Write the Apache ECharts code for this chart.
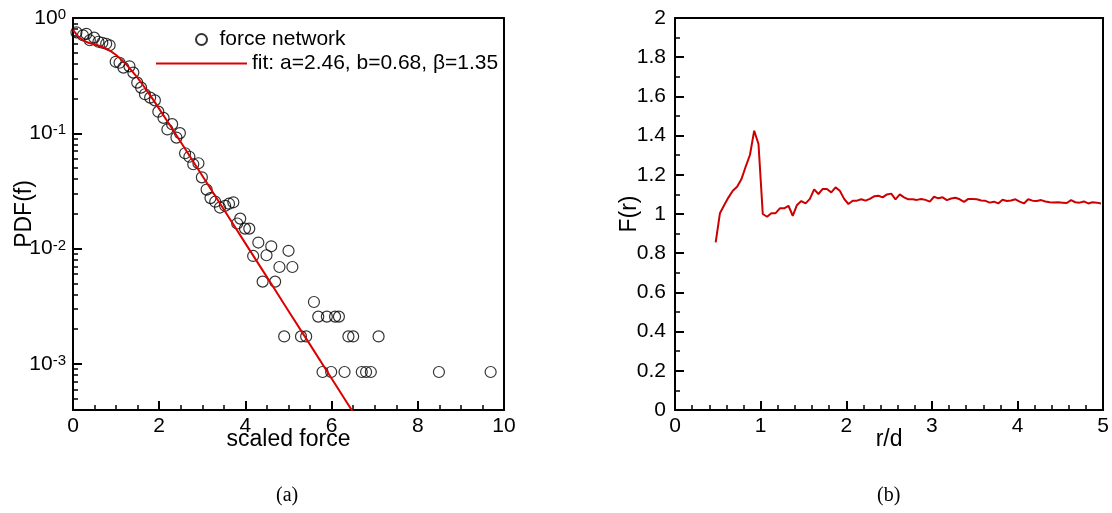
<!DOCTYPE html>
<html>
<head>
<meta charset="utf-8">
<script src="https://cdn.jsdelivr.net/npm/echarts@6/dist/echarts.min.js"></script>
<style>
  html, body { margin: 0; padding: 0; background: #fff; }
  #chart { width: 1112px; height: 513px; }
</style>
</head>
<body>
<div id="chart"></div>
<script>
// (a) probability density of the scaled contact force
const forceX = [0.08, 0.23, 0.31, 0.39, 0.49, 0.59, 0.68, 0.77, 0.85, 0.99,
  1.08, 1.17, 1.31, 1.40, 1.49, 1.58, 1.67, 1.79, 1.90, 1.98,
  2.10, 2.19, 2.30, 2.40, 2.48, 2.60, 2.70, 2.79, 2.91, 2.99,
  3.10, 3.19, 3.30, 3.41, 3.53, 3.62, 3.72, 3.81, 3.88, 3.99,
  4.09, 4.18, 4.30, 4.40, 4.49, 4.60, 4.69, 4.79, 4.90, 5.00,
  5.09, 5.29, 5.41, 5.59, 5.69, 5.79, 5.89, 5.99, 6.08, 6.17,
  6.30, 6.39, 6.50, 6.70, 6.80, 6.91, 7.09, 8.49, 9.69];
const forcePdf = [0.751, 0.708, 0.729, 0.641, 0.676, 0.622, 0.610, 0.598, 0.580, 0.417,
  0.409, 0.371, 0.381, 0.336, 0.275, 0.249, 0.218, 0.204, 0.193, 0.154,
  0.136, 0.108, 0.120, 0.0918, 0.1004, 0.0671, 0.0626, 0.0539, 0.0550, 0.0415,
  0.0325, 0.0274, 0.0255, 0.0227, 0.0235, 0.0245, 0.0252, 0.0165, 0.0182, 0.0149,
  0.0149, 0.00863, 0.01128, 0.00517, 0.00875, 0.01047, 0.00517, 0.00692, 0.00173, 0.00957,
  0.00692, 0.00173, 0.00173, 0.00344, 0.00257, 0.00085, 0.00257, 0.00085, 0.00257, 0.00257,
  0.00085, 0.00173, 0.00173, 0.00085, 0.00085, 0.00085, 0.00173, 0.00085, 0.00085];

// fitted curve a(1 - b e^{-f^2}) e^{-beta f}, tabulated
const fitX = [0, 0.125, 0.25, 0.375, 0.5, 0.625, 0.75, 0.875, 1, 1.125,
  1.25, 1.375, 1.5, 1.625, 1.75, 1.875, 2, 2.25, 2.5, 3,
  3.5, 4, 4.5, 5, 5.5, 6, 6.5];
const fitPdf = [0.787, 0.687, 0.634, 0.607, 0.589, 0.571, 0.547, 0.516, 0.478, 0.435,
  0.390, 0.345, 0.302, 0.261, 0.224, 0.192, 0.163, 0.1174, 0.0841, 0.0429,
  0.0218, 0.0111, 0.00566, 0.00288, 0.00147, 0.000747, 0.000380];

const pdfMajorTicks = [0.001, 0.01, 0.1, 1];
const pdfMinorTicks = [0.0005, 0.0006, 0.0007, 0.0008, 0.0009,
  0.002, 0.003, 0.004, 0.005, 0.006, 0.007, 0.008, 0.009,
  0.02, 0.03, 0.04, 0.05, 0.06, 0.07, 0.08, 0.09,
  0.2, 0.3, 0.4, 0.5, 0.6, 0.7, 0.8, 0.9];

const scatterName = 'force network';
const fitName = 'fit: a=2.46, b=0.68, β=1.35';

// (b) F(r) against r/d
const radius = [0.475, 0.525, 0.575, 0.625, 0.675, 0.725, 0.775, 0.825, 0.875, 0.925,
  0.975, 1.025, 1.075, 1.125, 1.175, 1.225, 1.275, 1.325, 1.375, 1.425,
  1.475, 1.525, 1.575, 1.625, 1.675, 1.725, 1.775, 1.825, 1.875, 1.925,
  1.975, 2.025, 2.075, 2.125, 2.175, 2.225, 2.275, 2.325, 2.375, 2.425,
  2.475, 2.525, 2.575, 2.625, 2.675, 2.725, 2.775, 2.825, 2.875, 2.925,
  2.975, 3.025, 3.075, 3.125, 3.175, 3.225, 3.275, 3.325, 3.375, 3.425,
  3.475, 3.525, 3.575, 3.625, 3.675, 3.725, 3.775, 3.825, 3.875, 3.925,
  3.975, 4.025, 4.075, 4.125, 4.175, 4.225, 4.275, 4.325, 4.375, 4.425,
  4.475, 4.525, 4.575, 4.625, 4.675, 4.725, 4.775, 4.825, 4.875, 4.925,
  4.975];
const fValues = [0.855, 1.004, 1.046, 1.085, 1.119, 1.139, 1.177, 1.241, 1.301, 1.425,
  1.357, 1.000, 0.986, 1.004, 1.004, 1.029, 1.029, 1.042, 0.991, 1.046,
  1.066, 1.054, 1.077, 1.126, 1.102, 1.128, 1.128, 1.110, 1.136, 1.119,
  1.077, 1.051, 1.068, 1.068, 1.075, 1.068, 1.077, 1.090, 1.093, 1.085,
  1.100, 1.104, 1.075, 1.100, 1.085, 1.075, 1.075, 1.072, 1.077, 1.072,
  1.063, 1.088, 1.080, 1.085, 1.071, 1.079, 1.083, 1.075, 1.062, 1.077,
  1.076, 1.075, 1.069, 1.067, 1.058, 1.063, 1.054, 1.073, 1.066, 1.069,
  1.075, 1.063, 1.054, 1.075, 1.068, 1.066, 1.071, 1.064, 1.060, 1.059,
  1.060, 1.058, 1.056, 1.071, 1.060, 1.058, 1.064, 1.054, 1.060, 1.058,
  1.054];

const SANS = 'Liberation Sans, Arial, Helvetica, sans-serif';
const SERIF = 'Liberation Serif, Times New Roman, serif';
const BLACK = '#000';
const MAJOR = 9;
const MINOR = 5;

const zip = (xs, ys) => xs.map((x, i) => [x, ys[i]]);

const tickLabel = { fontFamily: SANS, fontSize: 21, color: BLACK };
const axisName = { fontFamily: SANS, fontSize: 23, color: BLACK };
const frameLine = { show: true, onZero: false, lineStyle: { color: BLACK, width: 2 } };
const hidden = { show: false };

// main axis: frame line, labels and title
function mainAxis(gridIndex, position, scale, extra) {
  return Object.assign({
    gridIndex, position,
    axisLine: frameLine, axisTick: hidden, minorTick: hidden, splitLine: hidden,
    axisLabel: Object.assign({ margin: 6 }, tickLabel),
    nameLocation: 'middle', nameMoveOverlap: false, nameTextStyle: axisName
  }, scale, extra);
}

// tick rows: an axis shifted into the plot by the tick length, its ticks pointing back to the frame
function majorTickAxis(gridIndex, position, scale, customValues) {
  return Object.assign({
    gridIndex, position, offset: -MAJOR,
    axisLine: hidden, axisLabel: hidden, splitLine: hidden, minorTick: hidden,
    axisTick: { show: true, length: MAJOR, customValues, lineStyle: { color: BLACK, width: 2 } }
  }, scale);
}
function minorTickAxis(gridIndex, position, scale, splitNumber, customValues) {
  const ax = Object.assign({
    gridIndex, position, offset: -MINOR,
    axisLine: hidden, axisLabel: hidden, splitLine: hidden
  }, scale);
  if (customValues) {
    ax.axisTick = { show: true, length: MINOR, customValues, lineStyle: { color: BLACK, width: 1.5 } };
    ax.minorTick = hidden;
  } else {
    ax.axisTick = hidden;
    ax.minorTick = { show: true, splitNumber, length: MINOR, lineStyle: { color: BLACK, width: 1.5 } };
  }
  return ax;
}
// plain edge closing the box on the top and right
function edgeAxis(gridIndex, position, scale) {
  return Object.assign({
    gridIndex, position,
    axisLine: frameLine, axisTick: hidden, minorTick: hidden, axisLabel: hidden, splitLine: hidden
  }, scale);
}

const logMin = Math.pow(10, -3.4);
const forceScale = { type: 'value', min: 0, max: 10, interval: 2 };
const pdfScale = { type: 'log', logBase: 10, min: logMin, max: 1 };
const rScale = { type: 'value', min: 0, max: 5, interval: 1 };
const fScale = { type: 'value', min: 0, max: 2, interval: 0.2 };

const option = {
  animation: false,
  backgroundColor: '#fff',
  grid: [
    { left: 73, right: 608, top: 18, bottom: 103 },
    { left: 675, right: 7, top: 18, bottom: 103 }
  ],
  title: [
    { text: '(a)', left: 276, top: 486, padding: 0, textStyle: { fontFamily: SERIF, fontSize: 20, fontWeight: 'normal', color: BLACK } },
    { text: '(b)', left: 877, top: 486, padding: 0, textStyle: { fontFamily: SERIF, fontSize: 20, fontWeight: 'normal', color: BLACK } }
  ],
  legend: [
    {
      data: [scatterName], left: 195, top: 29, padding: 0, orient: 'vertical',
      itemWidth: 26, itemHeight: 11, selectedMode: false,
      textStyle: { fontFamily: SANS, fontSize: 21, color: BLACK }
    },
    {
      data: [{ name: fitName, icon: 'rect' }], left: 156, top: 53, padding: 0, orient: 'vertical',
      itemWidth: 91, itemHeight: 2, selectedMode: false,
      textStyle: { fontFamily: SANS, fontSize: 21, color: BLACK }
    }
  ],
  xAxis: [
    mainAxis(0, 'bottom', forceScale, { name: 'scaled force', nameGap: 18 }),       // 0
    mainAxis(1, 'bottom', rScale, { name: 'r/d', nameGap: 18 }),                    // 1
    majorTickAxis(0, 'bottom', forceScale),
    minorTickAxis(0, 'bottom', forceScale, 4),
    majorTickAxis(1, 'bottom', rScale),
    minorTickAxis(1, 'bottom', rScale, 5),
    edgeAxis(0, 'top', forceScale),
    edgeAxis(1, 'top', rScale)
  ],
  yAxis: [
    mainAxis(0, 'left', pdfScale, {                                                  // 0
      axisLabel: {
        customValues: pdfMajorTicks,
        margin: 7,
        formatter: v => '{b|10}{s|' + Math.round(Math.log10(v)) + '}',
        rich: {
          b: { fontFamily: SANS, fontSize: 21, color: BLACK, verticalAlign: 'bottom' },
          s: { fontFamily: SANS, fontSize: 15, color: BLACK, verticalAlign: 'top' }
        }
      },
      name: 'PDF(f)', nameGap: 37
    }),
    mainAxis(1, 'left', fScale, { axisLabel: Object.assign({ margin: 9 }, tickLabel), name: 'F(r)', nameGap: 34 }), // 1
    majorTickAxis(0, 'left', pdfScale, pdfMajorTicks),
    minorTickAxis(0, 'left', pdfScale, 0, pdfMinorTicks),
    majorTickAxis(1, 'left', fScale),
    minorTickAxis(1, 'left', fScale, 2),
    edgeAxis(0, 'right', pdfScale),
    edgeAxis(1, 'right', fScale)
  ],
  series: [
    {
      name: scatterName, type: 'scatter', xAxisIndex: 0, yAxisIndex: 0,
      symbol: 'circle', symbolSize: 11,
      itemStyle: { color: 'rgba(0,0,0,0)', borderColor: BLACK, borderWidth: 1.2 },
      data: zip(forceX, forcePdf)
    },
    {
      name: fitName, type: 'line', xAxisIndex: 0, yAxisIndex: 0,
      showSymbol: false, symbol: 'none', clip: true,
      lineStyle: { color: '#dd0000', width: 2 },
      itemStyle: { color: '#dd0000' },
      data: zip(fitX, fitPdf)
    },
    {
      name: 'F(r)', type: 'line', xAxisIndex: 1, yAxisIndex: 1,
      showSymbol: false, symbol: 'none',
      lineStyle: { color: '#cc0000', width: 2 },
      data: zip(radius, fValues)
    }
  ]
};

echarts.init(document.getElementById('chart'), null, { renderer: 'canvas' }).setOption(option);
</script>
</body>
</html>
